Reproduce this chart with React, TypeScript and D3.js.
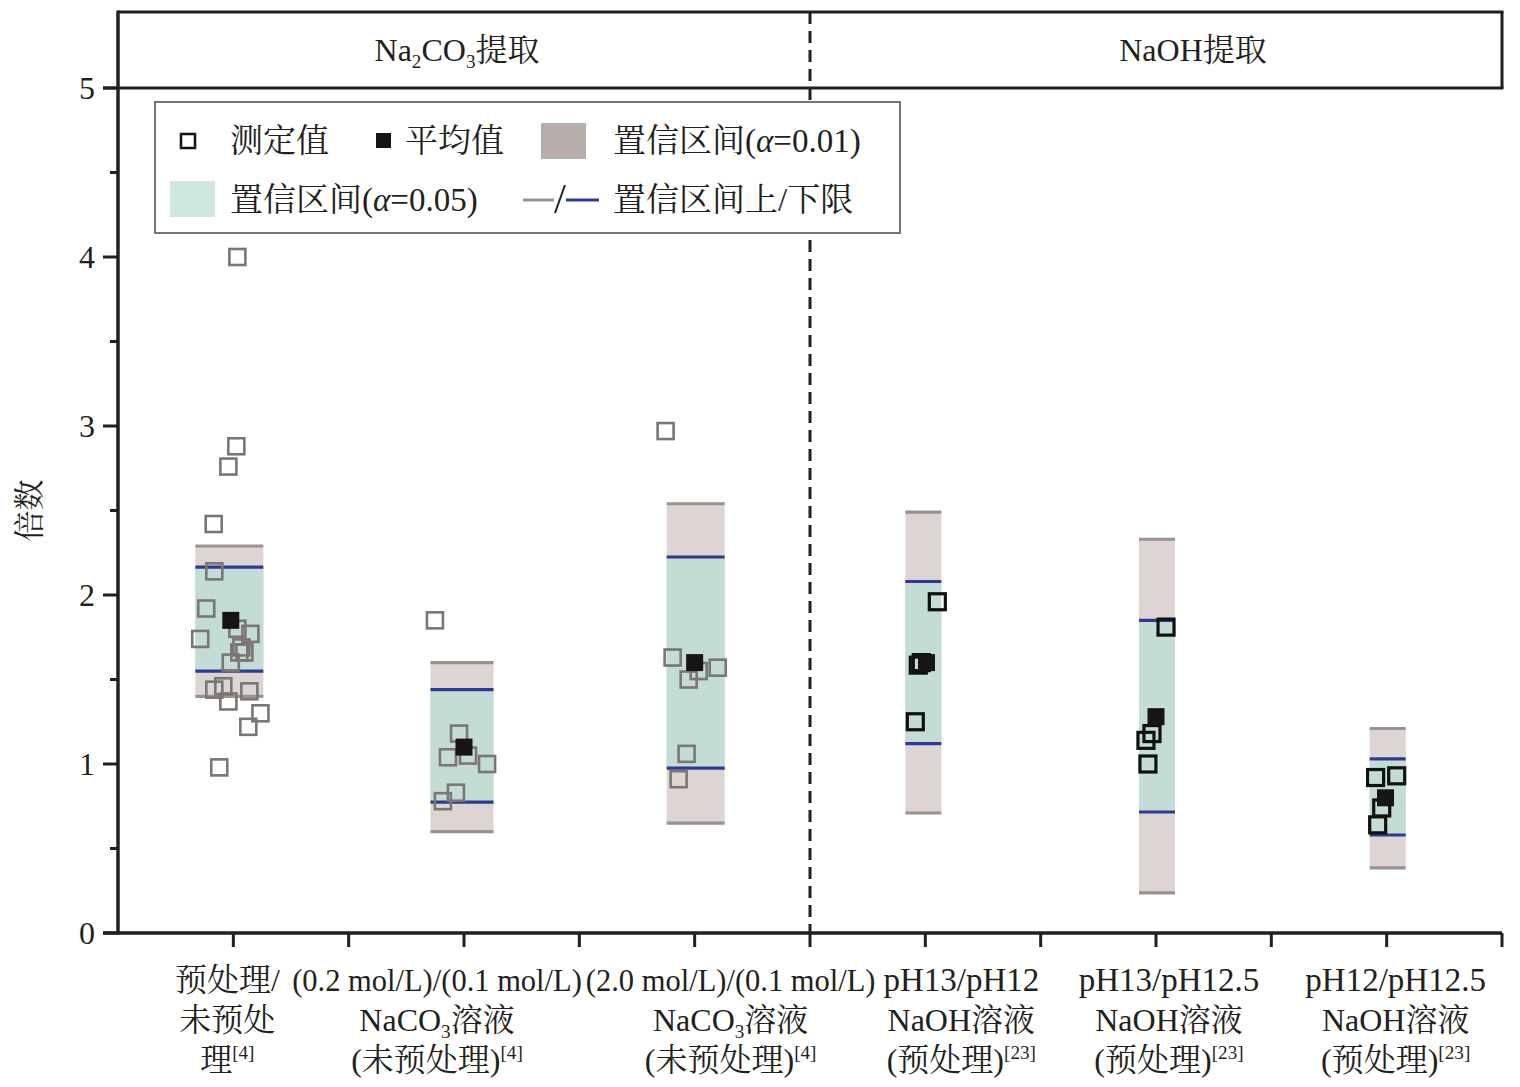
import React from "react";
import * as d3 from "d3";

// ---- data ----
const groups = ["g1", "g2", "g3", "g4", "g5", "g6"];

// measured values per group (value, x-jitter in half-band units)
const measured1 = [4.0, 2.88, 2.76, 2.42, 2.14, 1.92, 1.74, 1.8, 1.77, 1.66, 1.66, 1.69, 1.6, 1.46, 1.44, 1.37, 1.43, 1.3, 1.22, 0.98];
const jitter1 = [0.035, 0.026, -0.043, -0.17, -0.165, -0.235, -0.287, 0.035, 0.148, 0.096, 0.052, 0.07, -0.022, -0.087, -0.165, -0.043, 0.139, 0.235, 0.13, -0.122];
const measured2 = [1.85, 1.18, 1.04, 1.05, 1.0, 0.83, 0.78];
const jitter2 = [-0.252, -0.043, -0.139, 0.035, 0.2, -0.07, -0.183];
const measured3 = [2.97, 1.63, 1.55, 1.5, 1.57, 1.06, 0.91];
const jitter3 = [-0.252, -0.191, 0.035, -0.052, 0.2, -0.07, -0.139];
const measured4 = [1.96, 1.585, 1.6, 1.25];
const jitter4 = [0.104, -0.061, -0.035, -0.087];
const measured5 = [1.81, 1.18, 1.14, 1.0];
const jitter5 = [0.087, -0.035, -0.087, -0.07];
const measured6 = [0.92, 0.93, 0.74, 0.64];
const jitter6 = [-0.096, 0.087, -0.043, -0.078];

const means = [1.85, 1.1, 1.6, 1.6, 1.28, 0.8];
const meanJitter = [-0.022, 0, 0, 0.01, 0, -0.01];
const ci99Low = [1.4, 0.6, 0.65, 0.71, 0.237, 0.385];
const ci99High = [2.29, 1.6, 2.54, 2.49, 2.33, 1.21];
const ci95Low = [1.55, 0.775, 0.976, 1.12, 0.716, 0.58];
const ci95High = [2.165, 1.44, 2.225, 2.08, 1.85, 1.03];

const yTicks = [0, 1, 2, 3, 4, 5];
const yMinorTicks = [0.5, 1.5, 2.5, 3.5, 4.5];

type Seg = { t: string; sub?: boolean; sup?: boolean; it?: boolean };
const xLabels: Seg[][][] = [
  [[{ t: "预处理/" }], [{ t: "未预处" }], [{ t: "理" }, { t: "[4]", sup: true }]],
  [[{ t: "(0.2 mol/L)/(0.1 mol/L)" }], [{ t: "NaCO" }, { t: "3", sub: true }, { t: "溶液" }], [{ t: "(未预处理)" }, { t: "[4]", sup: true }]],
  [[{ t: "(2.0 mol/L)/(0.1 mol/L)" }], [{ t: "NaCO" }, { t: "3", sub: true }, { t: "溶液" }], [{ t: "(未预处理)" }, { t: "[4]", sup: true }]],
  [[{ t: "pH13/pH12" }], [{ t: "NaOH溶液" }], [{ t: "(预处理)" }, { t: "[23]", sup: true }]],
  [[{ t: "pH13/pH12.5" }], [{ t: "NaOH溶液" }], [{ t: "(预处理)" }, { t: "[23]", sup: true }]],
  [[{ t: "pH12/pH12.5" }], [{ t: "NaOH溶液" }], [{ t: "(预处理)" }, { t: "[23]", sup: true }]],
];
const headerLeft: Seg[] = [{ t: "Na" }, { t: "2", sub: true }, { t: "CO" }, { t: "3", sub: true }, { t: "提取" }];
const headerRight: Seg[] = [{ t: "NaOH提取" }];
const legendItems = ["测定值", "平均值", "置信区间(α=0.01)", "置信区间(α=0.05)", "置信区间上/下限"];

// ---- layout ----
const W = 1520;
const H = 1087;
const LEFT = 118;
const RIGHT = 1502;
const TOP = 12;
const BOTTOM = 933;
const HEADER_Y = 88;
const labelShift = [-6, -27, 36, 36, 13, 9];
const boxOffset = [-4, -2, 1, -2, 1, 1];
const boxWidth = [68, 63, 58, 36, 36, 36];
// first-line label sizes (long concentration lines are set tighter)
const firstLineSize = [32, 30.5, 30.5, 33, 33, 33];

const FONT = "'Liberation Serif', 'Times New Roman', 'Noto Serif CJK SC', 'Noto Sans CJK SC', serif";
const INK = "#231f20";
const C99 = "#ddd5d4";
const C95 = "#c3dcd5";
const C99_LINE = "#9a9291";
const C95_LINE = "#2e3a92";
const GRAY_PT = "#7b7574";

const measured = [measured1, measured2, measured3, measured4, measured5, measured6];
const jitters = [jitter1, jitter2, jitter3, jitter4, jitter5, jitter6];

function Rich({ segs, x, y, size, anchor = "middle" }: { segs: Seg[]; x: number; y: number; size: number; anchor?: string }) {
  const out: React.ReactNode[] = [];
  let shift = 0;
  segs.forEach((s, i) => {
    const target = s.sub ? size * 0.22 : s.sup ? -size * 0.38 : 0;
    const dy = target - shift;
    shift = target;
    out.push(
      <tspan
        key={i}
        dy={dy}
        fontSize={s.sub || s.sup ? size * 0.6 : size}
        fontStyle={s.it ? "italic" : undefined}
      >
        {s.t}
      </tspan>
    );
  });
  return (
    <text x={x} y={y} textAnchor={anchor as any} fontFamily={FONT} fontSize={size} fill={INK}>
      {out}
    </text>
  );
}

function alphaSegs(label: string): Seg[] {
  const i = label.indexOf("α");
  if (i < 0) return [{ t: label }];
  return [{ t: label.slice(0, i) }, { t: "α", it: true }, { t: label.slice(i + 1) }];
}

export default function App() {
  const y = d3.scaleLinear().domain([0, 5]).range([BOTTOM, HEADER_Y]);
  const x = d3.scaleBand<string>().domain(groups).range([LEFT, RIGHT]).padding(0);
  const bw = x.bandwidth();
  const jit = d3.scaleLinear().domain([-1, 1]).range([-bw / 2, bw / 2]);
  const cx = (i: number) => (x(groups[i]) as number) + bw / 2;
  const boundaries = groups.map((g) => (x(g) as number) + bw);
  const divider = x(groups[3]) as number;
  const sq = 16;
  const msq = 17;

  return (
    <div style={{ position: "absolute", left: 0, top: 0, background: "#fff" }}>
      <svg width={W} height={H} viewBox={`0 0 ${W} ${H}`} style={{ display: "block" }}>
        <rect x={0} y={0} width={W} height={H} fill="#fff" />

        {/* confidence intervals */}
        {groups.map((g, i) => {
          const bx = cx(i) + boxOffset[i] - boxWidth[i] / 2;
          const w = boxWidth[i];
          return (
            <g key={g}>
              <rect x={bx} y={y(ci99High[i])} width={w} height={y(ci99Low[i]) - y(ci99High[i])} fill={C99} />
              <rect x={bx} y={y(ci95High[i])} width={w} height={y(ci95Low[i]) - y(ci95High[i])} fill={C95} />
              {[ci99High[i], ci99Low[i]].map((v, k) => (
                <line key={"a" + k} x1={bx} x2={bx + w} y1={y(v)} y2={y(v)} stroke={C99_LINE} strokeWidth={3.2} />
              ))}
              {[ci95High[i], ci95Low[i]].map((v, k) => (
                <line key={"b" + k} x1={bx} x2={bx + w} y1={y(v)} y2={y(v)} stroke={C95_LINE} strokeWidth={3.2} />
              ))}
            </g>
          );
        })}

        {/* measured points */}
        {measured.map((vals, i) =>
          vals.map((v, k) => (
            <rect
              key={`${i}-${k}`}
              x={cx(i) + jit(jitters[i][k]) - sq / 2}
              y={y(v) - sq / 2}
              width={sq}
              height={sq}
              fill="none"
              stroke={i < 3 ? GRAY_PT : "#111"}
              strokeWidth={i < 3 ? 2.6 : 3.2}
            />
          ))
        )}

        {/* means */}
        {means.map((v, i) => (
          <rect
            key={"m" + i}
            x={cx(i) + jit(meanJitter[i]) - msq / 2}
            y={y(v) - msq / 2}
            width={msq}
            height={msq}
            fill="#161414"
          />
        ))}

        {/* frame / header */}
        <line x1={LEFT} x2={RIGHT + 1.5} y1={TOP} y2={TOP} stroke={INK} strokeWidth={3} />
        <line x1={RIGHT} x2={RIGHT} y1={TOP} y2={HEADER_Y} stroke={INK} strokeWidth={3} />
        <line x1={LEFT - 15} x2={RIGHT + 1.5} y1={HEADER_Y} y2={HEADER_Y} stroke={INK} strokeWidth={3} />
        <line x1={divider} x2={divider} y1={TOP} y2={BOTTOM} stroke={INK} strokeWidth={3} strokeDasharray="12,7" />
        <Rich segs={headerLeft} x={457} y={61} size={32} />
        <Rich segs={headerRight} x={1193} y={61} size={32} />

        {/* y axis */}
        <line x1={LEFT} x2={LEFT} y1={TOP - 1.5} y2={BOTTOM + 1.5} stroke={INK} strokeWidth={3.5} />
        {yTicks.map((t) => (
          <g key={"yt" + t}>
            <line x1={LEFT - 15} x2={LEFT} y1={y(t)} y2={y(t)} stroke={INK} strokeWidth={3} />
            <text x={95} y={y(t) + 11} textAnchor="end" fontFamily={FONT} fontSize={32} fill={INK}>
              {t}
            </text>
          </g>
        ))}
        {yMinorTicks.map((t) => (
          <line key={"ym" + t} x1={LEFT - 8} x2={LEFT} y1={y(t)} y2={y(t)} stroke={INK} strokeWidth={3} />
        ))}
        <text
          transform={`translate(40,${y(2.5)}) rotate(-90)`}
          textAnchor="middle"
          fontFamily={FONT}
          fontSize={31}
          fill={INK}
        >
          倍数
        </text>

        {/* x axis */}
        <line x1={LEFT - 15} x2={RIGHT} y1={BOTTOM} y2={BOTTOM} stroke={INK} strokeWidth={3.5} />
        {groups.map((g, i) => (
          <line key={"xc" + g} x1={cx(i)} x2={cx(i)} y1={BOTTOM} y2={BOTTOM + 14} stroke={INK} strokeWidth={3} />
        ))}
        {boundaries.map((b, i) => (
          <line key={"xb" + i} x1={b} x2={b} y1={BOTTOM} y2={BOTTOM + 14} stroke={INK} strokeWidth={3} />
        ))}
        {xLabels.map((lines, i) =>
          lines.map((segs, k) => (
            <Rich
              key={`xl${i}-${k}`}
              segs={segs}
              x={cx(i) + labelShift[i]}
              y={991 + k * 40}
              size={k === 0 ? firstLineSize[i] : 32}
            />
          ))
        )}

        {/* legend */}
        <rect x={155} y={102} width={745} height={131} fill="#fff" stroke="#6e6767" strokeWidth={1.8} />
        <rect x={181} y={134} width={14} height={14} fill="none" stroke="#111" strokeWidth={2.5} />
        <Rich segs={alphaSegs(legendItems[0])} x={230} y={152} size={33} anchor="start" />
        <rect x={376} y={133} width={15} height={15} fill="#161414" />
        <Rich segs={alphaSegs(legendItems[1])} x={405} y={152} size={33} anchor="start" />
        <rect x={541} y={123} width={45} height={36} fill="#b7aeac" />
        <Rich segs={alphaSegs(legendItems[2])} x={613} y={152} size={33} anchor="start" />
        <rect x={170} y={181} width={45} height={36} fill="#cfe7e0" />
        <Rich segs={alphaSegs(legendItems[3])} x={230} y={211} size={33} anchor="start" />
        <line x1={523} x2={554} y1={200} y2={200} stroke={C99_LINE} strokeWidth={3} />
        <line x1={555} x2={565} y1={213} y2={185} stroke={INK} strokeWidth={2} />
        <line x1={566} x2={599} y1={200} y2={200} stroke={C95_LINE} strokeWidth={3} />
        <Rich segs={alphaSegs(legendItems[4])} x={613} y={211} size={33} anchor="start" />
      </svg>
    </div>
  );
}
